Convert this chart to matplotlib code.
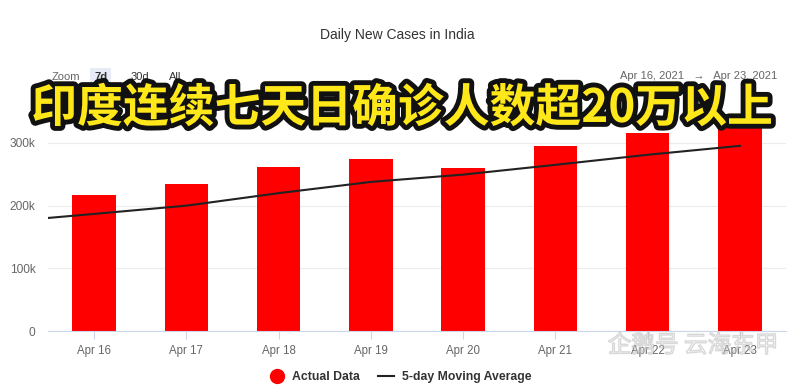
import matplotlib
matplotlib.use("Agg")
import matplotlib.pyplot as plt
import matplotlib.patheffects as pe
from matplotlib.lines import Line2D

plt.rcParams["font.family"] = ["Liberation Sans", "DejaVu Sans", "Noto Sans CJK SC"]

# data
days = ["Apr 16", "Apr 17", "Apr 18", "Apr 19", "Apr 20", "Apr 21", "Apr 22", "Apr 23"]
cases = [217353, 234692, 261500, 273810, 259170, 295041, 314835, 332730]
# 5-day moving average, first value is Apr 15 (runs off the left edge)
ma_days = ["Apr 15"] + days
ma_vals = [173728, 186622, 199778, 219731, 237619, 249305, 264843, 280871, 295117]
yticks = [0, 100000, 200000, 300000]
ytick_labels = ["0", "100k", "200k", "300k"]

fig = plt.figure(figsize=(8, 3.92), dpi=100)
ax = fig.add_axes([0.06, 0.1556, 0.9225, 0.589])

x = list(range(len(days)))
ax.bar(x, cases, width=0.47, color="#ff0000", zorder=2)
ma_x = list(range(-1, len(days)))
ax.plot(ma_x, ma_vals, color="#222222", lw=1.5, zorder=3)

ax.set_xlim(-0.5, len(days) - 0.5)
ax.set_ylim(0, 368000)
ax.set_yticks(yticks)
ax.set_yticklabels(ytick_labels)
ax.set_xticks(x)
ax.set_xticklabels(days)
ax.grid(axis="y", color="#ececec", lw=0.8, zorder=0)
for s in ["top", "right", "left"]:
    ax.spines[s].set_visible(False)
ax.spines["bottom"].set_color("#ccd6eb")
ax.tick_params(axis="y", length=0, labelsize=8.6, labelcolor="#666666", pad=9)
ax.tick_params(axis="x", length=6, color="#ccd6eb", labelsize=8.3, labelcolor="#666666", pad=4)

# titles and range selector
fig.text(0.497, 0.91, "Daily New Cases in India", ha="center", va="center",
         fontsize=10, color="#333333")
fig.text(0.065, 0.803, "Zoom", ha="left", va="center", fontsize=8, color="#666666")
fig.text(0.126, 0.803, "7d", ha="center", va="center", fontsize=8, color="#333333",
         fontweight="bold",
         bbox=dict(boxstyle="square,pad=0.35", fc="#e6ebf5", ec="none"))
fig.text(0.175, 0.803, "30d", ha="center", va="center", fontsize=8, color="#333333")
fig.text(0.219, 0.803, "All", ha="center", va="center", fontsize=8, color="#333333")
fig.text(0.972, 0.806, "Apr 16, 2021   \u2192   Apr 23, 2021", ha="right", va="center",
         fontsize=8, color="#666666")

# legend
handles = [Line2D([], [], marker="o", color="none", markerfacecolor="#ff0000",
                  markeredgecolor="#ff0000", markersize=10),
           Line2D([], [], color="#222222", lw=1.5)]
leg = fig.legend(handles, ["Actual Data", "5-day Moving Average"], loc="center",
                 bbox_to_anchor=(0.5, 0.038), ncol=2, frameon=False, fontsize=8.8,
                 handlelength=1.3, columnspacing=1.5, handletextpad=0.6)
for t in leg.get_texts():
    t.set_fontweight("bold")
    t.set_color("#333333")

# overlay caption
fig.text(0.503, 0.722, "印度连续七天日确诊人数超20万以上", ha="center", va="center",
         fontsize=33, color="#ffe81a", fontweight="heavy",
         family=["Noto Sans CJK SC"],
         path_effects=[pe.withStroke(linewidth=7, foreground="#111111")])

# watermark (faint, behind the tick labels)
fig.text(0.973, 0.118, "企鹅号 云海东甲", ha="right", va="center", fontsize=17,
         color=(1, 1, 1, 0), family=["Noto Sans CJK SC"], zorder=0,
         path_effects=[pe.withStroke(linewidth=1.0, foreground=(0.75, 0.75, 0.75, 0.6))])

fig.savefig("out.png", dpi=100)
